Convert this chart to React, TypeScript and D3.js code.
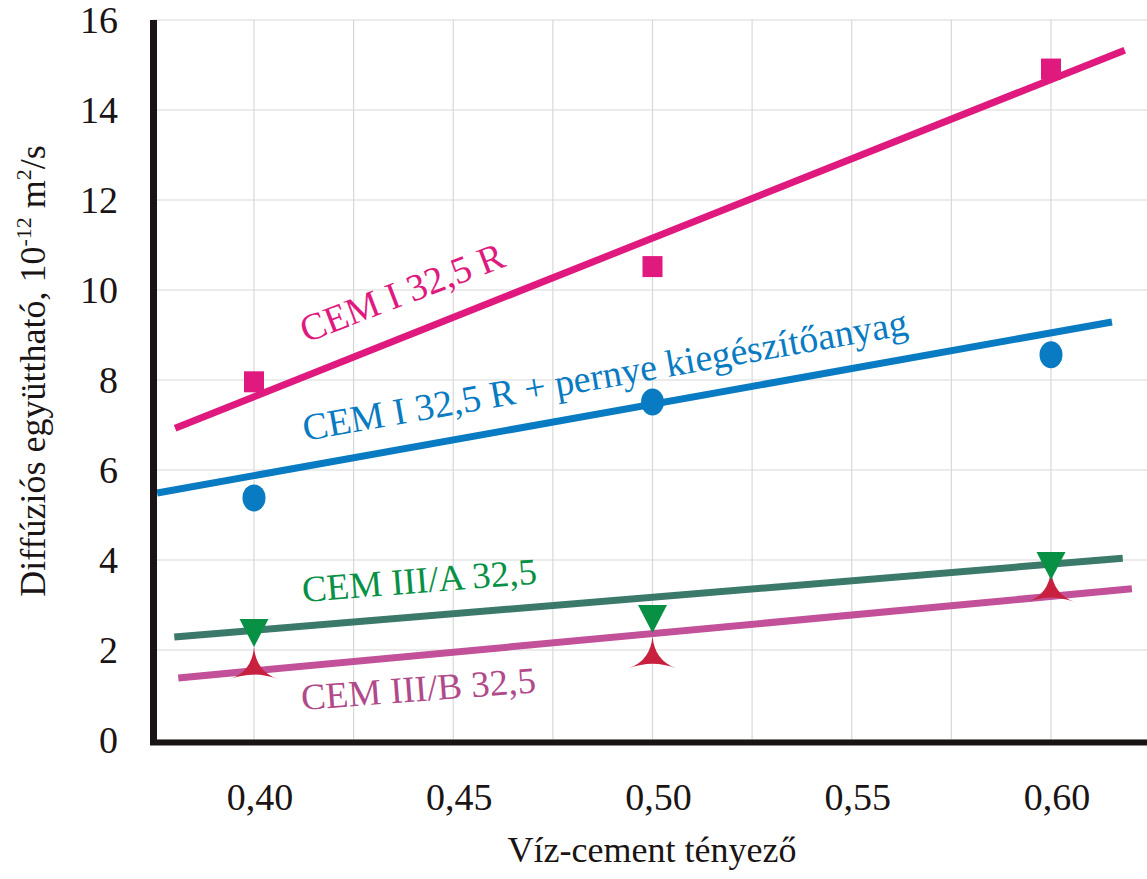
import React from "react";
import * as d3 from "d3";

// ---- data ----
const wcRatios = [0.4, 0.5, 0.6];
const cemIValues = [7.96, 10.52, 14.91];
const cemIPernyeValues = [5.38, 7.51, 8.56];
const cemIIIAValues = [2.48, 2.79, 3.97];
const cemIIIBValues = [1.6, 1.84, 3.31];

// fitted trend lines: [x0, y0, x1, y1]
const cemITrend = [0.3802, 6.93, 0.6185, 15.33];
const cemIPernyeTrend = [0.3757, 5.49, 0.6153, 9.29];
const cemIIIATrend = [0.38, 2.29, 0.618, 4.04];
const cemIIIBTrend = [0.381, 1.38, 0.6203, 3.36];

const yTicks = [0, 2, 4, 6, 8, 10, 12, 14, 16];
const xTickValues = [0.4, 0.45, 0.5, 0.55, 0.6];
const xTickLabels = ["0,40", "0,45", "0,50", "0,55", "0,60"];
const xGrid = [0.4, 0.425, 0.45, 0.475, 0.5, 0.525, 0.55, 0.575, 0.6];

const seriesLabels = [
  "CEM I 32,5 R",
  "CEM I 32,5 R + pernye kiegészítőanyag",
  "CEM III/A 32,5",
  "CEM III/B 32,5",
];

const W = 1147;
const H = 879;
const FONT = "'Liberation Serif', 'Times New Roman', serif";

const x = d3.scaleLinear().domain([0.4, 0.6]).range([254, 1051]);
const y = d3.scaleLinear().domain([0, 16]).range([740, 20]);

const trendLine = (t: number[]) =>
  d3.line<[number, number]>()
    .x((d) => x(d[0]))
    .y((d) => y(d[1]))([
    [t[0], t[1]],
    [t[2], t[3]],
  ]) as string;

const triDown = (() => {
  const p = d3.path();
  p.moveTo(-14.5, -9.4);
  p.lineTo(14.5, -9.4);
  p.lineTo(0, 18.6);
  p.closePath();
  return p.toString();
})();

const star3 = (() => {
  const p = d3.path();
  p.moveTo(0, -21);
  p.quadraticCurveTo(2, 3, 23.5, 11);
  p.quadraticCurveTo(0, 2, -23.5, 11);
  p.quadraticCurveTo(-2, 3, 0, -21);
  p.closePath();
  return p.toString();
})();

const C_MAG = "#e0197f";
const C_BLUE = "#087bc2";
const C_TEAL = "#3b7a6b";
const C_GREEN = "#089145";
const C_PINK = "#c2519a";
const C_PINKTXT = "#b04a8a";
const C_RED = "#c8213f";

export default function App() {
  return (
    <svg
      width={W}
      height={H}
      style={{ position: "absolute", left: 0, top: 0, background: "#fff" }}
      fontFamily={FONT}
    >
      {/* grid */}
      {xGrid.map((v) => (
        <line key={"gx" + v} x1={x(v)} x2={x(v)} y1={y(16)} y2={y(0)} stroke="#d8d8d8" strokeWidth={1.2} />
      ))}
      {yTicks.map((v) => (
        <line key={"gy" + v} x1={153} x2={W} y1={y(v)} y2={y(v)} stroke="#d8d8d8" strokeWidth={1.2} />
      ))}

      {/* trend lines */}
      <path d={trendLine(cemITrend)} stroke={C_MAG} strokeWidth={7} fill="none" />
      <path d={trendLine(cemIPernyeTrend)} stroke={C_BLUE} strokeWidth={7} fill="none" />
      <path d={trendLine(cemIIIATrend)} stroke={C_TEAL} strokeWidth={7} fill="none" />
      <path d={trendLine(cemIIIBTrend)} stroke={C_PINK} strokeWidth={7} fill="none" />

      {/* markers */}
      {wcRatios.map((r, i) => (
        <rect key={"sq" + i} x={x(r) - 10} y={y(cemIValues[i]) - 10.5} width={20} height={21} fill={C_MAG} />
      ))}
      {wcRatios.map((r, i) => (
        <ellipse key={"ci" + i} cx={x(r)} cy={y(cemIPernyeValues[i])} rx={11.5} ry={13.5} fill={C_BLUE} />
      ))}
      {wcRatios.map((r, i) => (
        <path key={"st" + i} d={star3} transform={`translate(${x(r)},${y(cemIIIBValues[i])})`} fill={C_RED} />
      ))}
      {wcRatios.map((r, i) => (
        <path key={"tr" + i} d={triDown} transform={`translate(${x(r)},${y(cemIIIAValues[i])})`} fill={C_GREEN} />
      ))}

      {/* series labels */}
      <text x={306} y={343} fontSize={38} fill={C_MAG} transform="rotate(-21 306 343)">
        {seriesLabels[0]}
      </text>
      <text x={305} y={441} fontSize={38} fill={C_BLUE} transform="rotate(-10 305 441)">
        {seriesLabels[1]}
      </text>
      <text x={303} y={602} fontSize={37} fill={C_GREEN} transform="rotate(-4.5 303 602)">
        {seriesLabels[2]}
      </text>
      <text x={302} y={710} fontSize={37} fill={C_PINKTXT} transform="rotate(-4.3 302 710)">
        {seriesLabels[3]}
      </text>

      {/* axes */}
      <line x1={153.5} x2={153.5} y1={20} y2={745} stroke="#1a1414" strokeWidth={7} />
      <line x1={150} x2={W} y1={742.5} y2={742.5} stroke="#1a1414" strokeWidth={6} />

      {/* y tick labels */}
      {yTicks.map((v) => (
        <text key={"yl" + v} x={118} y={y(v)} dy="0.35em" textAnchor="end" fontSize={38} fill="#1a1414">
          {v}
        </text>
      ))}
      {/* x tick labels */}
      {xTickValues.map((v, i) => (
        <text key={"xl" + v} x={x(v) + 6} y={810} textAnchor="middle" fontSize={38} fill="#1a1414">
          {xTickLabels[i]}
        </text>
      ))}

      {/* axis titles */}
      <text x={652} y={862} textAnchor="middle" fontSize={36} fill="#1a1414">
        Víz-cement tényező
      </text>
      <text transform="translate(45,371) rotate(-90)" textAnchor="middle" fontSize={36} fill="#1a1414">
        Diffúziós együttható, 10
        <tspan fontSize={22} dy={-14}>-12</tspan>
        <tspan dy={14}> m</tspan>
        <tspan fontSize={22} dy={-14}>2</tspan>
        <tspan dy={14}>/s</tspan>
      </text>
    </svg>
  );
}
